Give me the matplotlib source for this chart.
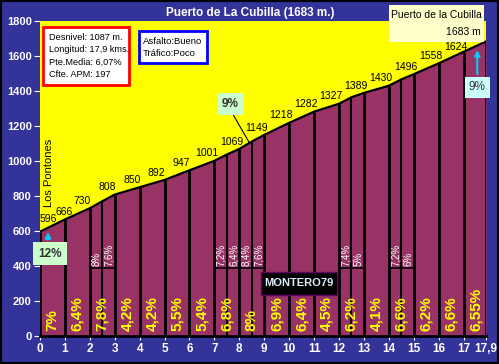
import matplotlib
matplotlib.use('Agg')
import matplotlib.pyplot as plt
from matplotlib.patches import Rectangle

plt.rcParams['font.family'] = ['Liberation Sans', 'DejaVu Sans']

# data
km = [0, 1, 2, 3, 4, 5, 6, 7, 8, 9, 10, 11, 12, 13, 14, 15, 16, 17, 17.9]
elev = [596, 666, 730, 808, 850, 892, 947, 1001, 1069, 1149, 1218, 1282,
        1327, 1389, 1430, 1496, 1558, 1624, 1683]
grades = ['7%', '6,4%', '7,8%', '4,2%', '4,2%', '5,5%', '5,4%', '6,8%', '8%',
          '6,9%', '6,4%', '4,5%', '6,2%', '4,1%', '6,6%', '6,2%', '6,6%', '6,55%']
# kilometres split in two halves, with the grade of each half
split_km = [2, 7, 8, 12, 14]
split_first = [8.0, 7.2, 8.4, 7.4, 7.2]
split_labels = [('8%', '7,6%'), ('7,2%', '6,4%'), ('8,4%', '7,6%'),
                ('7,4%', '5%'), ('7,2%', '6%')]
tick_labels = [str(k) for k in km[:-1]] + ['17,9']

BLUE = '#333399'
MAROON = '#993366'

# profile points, adding the half-km points of the split kilometres
prof_x, prof_y = [], []
for i, k in enumerate(km):
    prof_x.append(k)
    prof_y.append(elev[i])
    if k in split_km:
        j = split_km.index(k)
        prof_x.append(k + 0.5)
        prof_y.append(elev[i] + split_first[j] * 5)

W, H = 499, 364
fig = plt.figure(figsize=(W / 100, H / 100), dpi=100, facecolor=BLUE)
ax = fig.add_axes([40 / W, 28 / H, 446 / W, 315 / H])
ax.set_facecolor('#FFFF00')
ax.set_xlim(0, 17.9)
ax.set_ylim(0, 1800)

ax.fill_between(prof_x, prof_y, 0, color=MAROON, lw=0)
ax.plot(prof_x, prof_y, color='black', lw=1.6)
ax.vlines(km, 0, elev, colors='black', lw=2)

for j, k in enumerate(split_km):
    mid_y = prof_y[prof_x.index(k + 0.5)]
    ax.vlines(k + 0.5, 0, mid_y, colors='black', lw=1.5)
    ax.hlines(390, k, k + 1, colors='black', lw=1.2)
    for h, lab in enumerate(split_labels[j]):
        ax.text(k + 0.27 + 0.5 * h, 400, lab, rotation=90, color='white',
                fontsize=7, ha='center', va='bottom')

for i, g in enumerate(grades):
    ax.text(km[i] + 0.5, 30, g, rotation=90, color='#FFFF00', fontsize=11,
            fontweight='bold', ha='center', va='bottom')

for i, e in enumerate(elev[:-1]):
    if i == 0:
        ax.text(0.0, e + 75, str(e), fontsize=7.5, ha='left', va='center')
    else:
        ax.text(max(km[i] - 0.32, 0.95), e + (42 if i < 17 else 28), str(e),
                fontsize=7.5, ha='center', va='center')

ax.set_xticks(km)
ax.set_xticklabels(tick_labels)
ax.set_yticks(range(0, 1801, 200))
ax.tick_params(axis='x', colors='white', length=3, pad=2, labelsize=8.5)
ax.tick_params(axis='y', colors='white', length=4, pad=2, labelsize=8)
for lab in ax.get_xticklabels() + ax.get_yticklabels():
    lab.set_fontweight('bold')
for s in ['top', 'right', 'left']:
    ax.spines[s].set_visible(False)
ax.spines['bottom'].set_color('black')
ax.spines['bottom'].set_linewidth(2)

# annotations
ax.text(0.38, 735, 'Los Pontones', rotation=90, fontsize=8, ha='center', va='bottom')
ax.text(0.4, 470, '12%', fontsize=8.5, fontweight='bold', color='#333333',
        ha='center', va='center',
        bbox=dict(boxstyle='square,pad=0.45', fc='#CCFFCC', ec='none'))
ax.annotate('', xy=(0.32, 610), xytext=(0.32, 535),
            arrowprops=dict(arrowstyle='-|>', color='#00CCFF', lw=1.5, mutation_scale=8))
ax.text(7.62, 1326, '9%', fontsize=8.5, fontweight='bold', color='#333333',
        ha='center', va='center',
        bbox=dict(boxstyle='square,pad=0.4', fc='#CCFFCC', ec='none'))
ax.plot([7.75, 8.4], [1265, 1105], color='black', lw=0.8)
ax.text(17.55, 1420, '9%', fontsize=8.5, color='#333333', ha='center', va='center',
        bbox=dict(boxstyle='square,pad=0.35', fc='#CCFFFF', ec='none'))
ax.annotate('', xy=(17.55, 1650), xytext=(17.55, 1480),
            arrowprops=dict(arrowstyle='-|>', color='#00CCFF', lw=1.5, mutation_scale=8))


def px_rect(x0, y0, x1, y1, fc, ec, lw):
    fig.add_artist(Rectangle((x0 / W, 1 - y1 / H), (x1 - x0) / W, (y1 - y0) / H,
                             transform=fig.transFigure, fc=fc, ec=ec, lw=lw))


# info boxes
px_rect(43, 27, 129, 85, 'white', 'red', 2)
for n, line in enumerate(['Desnivel: 1087 m.', 'Longitud: 17,9 kms.',
                          'Pte.Media: 6,07%', 'Cfte. APM: 197']):
    fig.text(49 / W, 1 - (37 + 12.5 * n) / H, line, fontsize=6.6, va='center')
px_rect(139, 31, 207, 63, 'white', 'blue', 2)
for n, line in enumerate(['Asfalto:Bueno', 'Tráfico:Poco']):
    fig.text(143 / W, 1 - (41 + 12 * n) / H, line, fontsize=6.8, va='center')
px_rect(389, 5, 484, 42, '#FFFFCC', 'none', 0)
fig.text(391 / W, 1 - 15 / H, 'Puerto de la Cubilla', fontsize=7.5, va='center')
fig.text(481 / W, 1 - 32 / H, '1683 m', fontsize=7.5, va='center', ha='right')
px_rect(261, 272, 337, 295, 'black', '#660066', 1)
fig.text(299 / W, 1 - 283.5 / H, 'MONTERO79', fontsize=8, fontweight='bold',
         color='#DDEEFF', ha='center', va='center')

fig.text(250 / W, 1 - 13 / H, 'Puerto de La Cubilla (1683 m.)', fontsize=8.5,
         fontweight='bold', color='white', ha='center', va='center')
fig.add_artist(Rectangle((0, 0), 1, 1, transform=fig.transFigure, fill=False,
                         ec='black', lw=3))

fig.savefig('out.png', dpi=100, facecolor=BLUE)
